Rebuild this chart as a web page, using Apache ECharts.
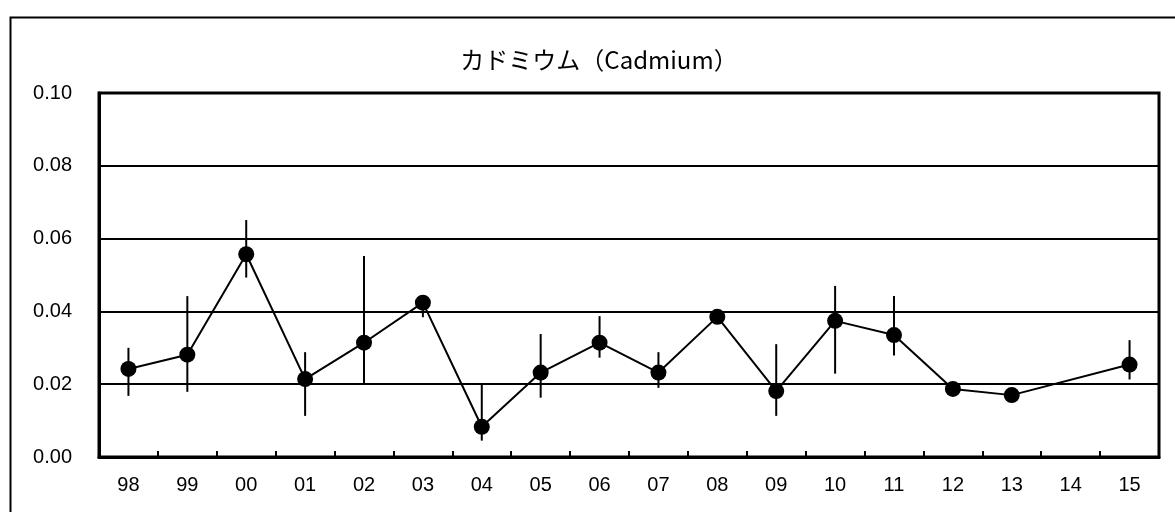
<!DOCTYPE html>
<html>
<head>
<meta charset="utf-8">
<script src="https://cdn.jsdelivr.net/npm/echarts@6/dist/echarts.min.js"></script>
<style>
html,body{margin:0;padding:0;background:#fff;}
#c{width:1175px;height:512px;}
</style>
</head>
<body>
<div id="c"></div>
<script>
var titleText = 'カドミウム（Cadmium）';
var categories = ['98','99','00','01','02','03','04','05','06','07','08','09','10','11','12','13','14','15'];
var meanValues = [0.0242,0.0281,0.0557,0.0214,0.0314,0.0424,0.0083,0.0232,0.0314,0.0232,0.0385,0.0181,0.0374,0.0335,0.0187,0.0170,null,0.0254];
var lowValues  = [0.0168,0.0179,0.0493,0.0113,0.0202,0.0384,0.0045,0.0163,0.0273,0.0190,0.0378,0.0113,0.0229,0.0279,null,null,null,0.0213];
var highValues = [0.0300,0.0442,0.0651,0.0288,0.0552,0.0445,0.0200,0.0338,0.0387,0.0288,0.0393,0.0310,0.0470,0.0442,null,null,null,0.0321];
var yTicks = [0, 0.02, 0.04, 0.06, 0.08, 0.10];

var errData = [];
for (var i = 0; i < categories.length; i++) {
  if (lowValues[i] != null && highValues[i] != null) errData.push([i, lowValues[i], highValues[i]]);
}

var chart = echarts.init(document.getElementById('c'), null, {renderer: 'canvas'});
chart.setOption({
  animation: false,
  backgroundColor: '#fff',
  graphic: [{
    type: 'rect', left: 8, top: 15, z: -1,
    shape: {width: 1300, height: 700},
    style: {fill: 'none', stroke: '#000', lineWidth: 2}
  }, {
    type: 'text', x: 599, y: 60, z: 10,
    style: {text: titleText, fill: '#000', font: '24px "Noto Sans CJK JP"', textAlign: 'center', textVerticalAlign: 'middle'}
  }],
  grid: {left: 99, right: 16, top: 93, bottom: 55, show: true, borderColor: '#000', borderWidth: 3, backgroundColor: 'transparent'},
  xAxis: {
    type: 'category', data: categories, boundaryGap: true,
    axisLine: {lineStyle: {color: '#000', width: 3}},
    axisTick: {show: true, inside: true, length: 6, alignWithLabel: false, lineStyle: {color: '#000', width: 2}},
    axisLabel: {color: '#000', fontSize: 20, fontFamily: 'Liberation Sans', margin: 18},
    splitLine: {show: false}
  },
  yAxis: {
    type: 'value', min: 0, max: 0.1, interval: 0.02,
    axisLine: {show: true, lineStyle: {color: '#000', width: 3}},
    axisTick: {show: false},
    axisLabel: {color: '#000', fontSize: 20, fontFamily: 'Liberation Sans', margin: 27,
      formatter: function (v) { return v.toFixed(2); }},
    splitLine: {show: true, lineStyle: {color: '#000', width: 2}}
  },
  series: [{
    type: 'custom',
    data: errData,
    z: 2,
    renderItem: function (params, api) {
      var x = api.value(0);
      var p1 = api.coord([x, api.value(1)]);
      var p2 = api.coord([x, api.value(2)]);
      return {type: 'line', shape: {x1: p1[0], y1: p1[1], x2: p2[0], y2: p2[1]},
        style: {stroke: '#000', lineWidth: 2}};
    }
  }, {
    type: 'line',
    data: meanValues,
    connectNulls: true,
    z: 3,
    symbol: 'circle', symbolSize: 16,
    lineStyle: {color: '#000', width: 2},
    itemStyle: {color: '#000'}
  }]
});
</script>
</body>
</html>
